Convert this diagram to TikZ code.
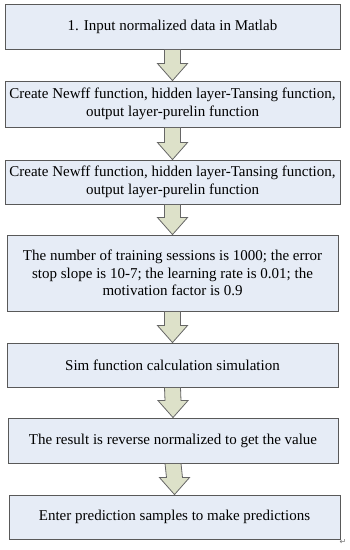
\documentclass[tikz,border=0pt]{standalone}
\usepackage{fontspec}
\setmainfont{Liberation Serif}
\newfontfamily\symfont{DejaVu Sans}
\usepackage{tikz}
\usetikzlibrary{calc}
\definecolor{boxblue}{RGB}{230,236,246}
\definecolor{arrowkhaki}{RGB}{221,225,201}
\tikzset{
  stepbox/.style={draw=black!65, fill=boxblue, line width=0.9pt, align=center,
    inner xsep=2pt, minimum width=335pt, minimum height=45pt,
    font=\fontsize{15}{17.5}\selectfont},                      % process box
  blockarrow/.style={draw=black!60, fill=arrowkhaki, line width=0.8pt}, % fat down arrow
}
% fat arrow from the bottom of #1 to the top of #2
\newcommand{\flowarrow}[2]{%
  \draw[blockarrow] ($(#1.south)+(-8,0)$) -- ($(#2.north)+(-8,17)$)
    -- ($(#2.north)+(-15,17)$) -- (#2.north) -- ($(#2.north)+(15,17)$)
    -- ($(#2.north)+(8,17)$) -- ($(#1.south)+(8,0)$) -- cycle;}

\begin{document}
\begin{tikzpicture}[x=1pt, y=1pt]
  \useasboundingbox (0,0) rectangle (350,-550);
  % process steps, top to bottom
  \node[stepbox] (input) at (172.5,-26.5) {1. Input normalized data in Matlab};
  \node[stepbox, minimum height=46pt] (newffa) at (172.5,-104)
       {Create Newff function, hidden layer-Tansing function,\\ output layer-purelin function};
  \node[stepbox, minimum height=44pt] (newffb) at (172.5,-182)
       {Create Newff function, hidden layer-Tansing function,\\ output layer-purelin function};
  \node[stepbox, minimum width=331pt, minimum height=76pt] (train) at (172.5,-273)
       {The number of training sessions is 1000; the error\\ stop slope is 10-7; the learning rate is 0.01; the\\ motivation factor is 0.9};
  \node[stepbox, minimum width=331pt, minimum height=44pt] (sim) at (172.5,-365)
       {Sim function calculation simulation};
  \node[stepbox, minimum width=330pt] (reverse) at (173,-440.5)
       {The result is reverse normalized to get the value};
  \node[stepbox, minimum width=331pt, minimum height=44pt] (predict) at (174.5,-517)
       {Enter prediction samples to make predictions};
  % arrows between the steps
  \flowarrow{input}{newffa}
  \flowarrow{newffa}{newffb}
  \flowarrow{newffb}{train}
  \flowarrow{train}{sim}
  \flowarrow{sim}{reverse}
  \flowarrow{reverse}{predict}
  % paragraph mark left over at the end
  \node[font=\symfont\fontsize{8}{8}\selectfont, text=black!55, inner sep=0pt]
       (mark) at (343,-542) {↵};
\end{tikzpicture}
\end{document}
